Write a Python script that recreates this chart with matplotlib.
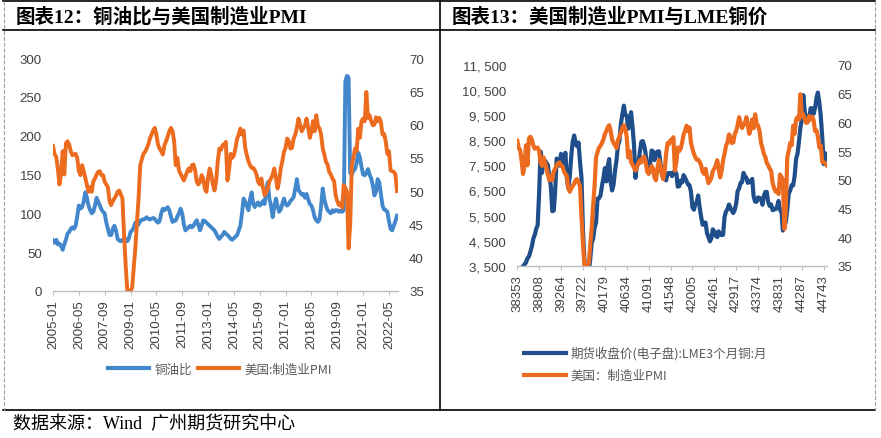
import matplotlib
matplotlib.use("Agg")
import matplotlib.pyplot as plt
from matplotlib.lines import Line2D
import pandas as pd

# ---- data (monthly) ----
# copper / oil ratio, 2005-01 .. 2022-10
cu_oil = [
    65, 62, 66, 60, 61, 58, 53, 60, 66, 74, 76, 80,
    82, 80, 84, 96, 110, 106, 108, 115, 127, 120, 110, 104,
    100, 102, 110, 120, 115, 110, 105, 102, 100, 88, 80, 72,
    72, 80, 84, 78, 67, 65, 64, 66, 65, 67, 64, 68,
    76, 78, 82, 88, 84, 86, 90, 92, 92, 93, 95, 93,
    92, 93, 94, 93, 90, 88, 90, 100, 106, 104, 106, 108,
    104, 96, 89, 90, 91, 96, 100, 106, 100, 86, 78, 80,
    82, 84, 82, 84, 88, 91, 85, 78, 84, 91, 90, 88,
    86, 84, 82, 80, 78, 74, 70, 67, 70, 72, 76, 74,
    72, 70, 67, 66, 68, 70, 72, 78, 84, 100, 119, 115,
    110, 104, 118, 127, 112, 108, 112, 114, 110, 112, 116, 112,
    130, 140, 118, 110, 95, 108, 119, 110, 102, 105, 112, 119,
    112, 110, 112, 116, 118, 121, 132, 144, 130, 127, 124, 125,
    120, 125, 118, 112, 110, 104, 95, 91, 89, 92, 110, 132,
    118, 110, 104, 102, 100, 104, 102, 104, 104, 102, 103, 102,
    104, 270, 277, 275, 152, 150, 155, 157, 165, 178, 172, 160,
    150, 149, 152, 157, 150, 145, 136, 123, 128, 144, 140, 125,
    110, 105, 104, 102, 90, 80, 78, 84, 90, 97,
]

# US ISM manufacturing PMI, 2005-01 .. 2022-10
pmi = [
    56.8, 55.5, 55.2, 53.3, 51.0, 52.6, 56.0, 52.5, 57.2, 57.5, 57.0, 56.0,
    55.4, 55.5, 55.6, 55.0, 53.0, 52.4, 53.9, 53.0, 52.0, 50.9, 49.9, 50.6,
    49.9, 51.5, 51.9, 52.5, 52.9, 53.0, 52.4, 52.4, 51.4, 51.0, 50.6, 48.5,
    47.9, 48.5, 48.9, 49.3, 49.9, 50.1, 49.5, 48.9, 43.4, 38.9, 35.0, 35.0,
    35.0, 35.5, 38.5, 41.5, 45.4, 49.0, 53.9, 54.8, 55.6, 55.9, 56.4, 57.0,
    57.9, 58.5, 59.1, 59.5, 58.5, 57.0, 56.4, 56.0, 55.5, 56.9, 57.5, 58.2,
    59.0, 59.5, 59.0, 57.5, 53.9, 55.0, 53.1, 52.6, 52.1, 51.6, 52.2, 52.9,
    53.4, 53.0, 53.9, 54.0, 53.1, 51.4, 51.0, 51.4, 52.4, 51.9, 50.4, 49.9,
    52.0, 53.4, 52.5, 51.0, 50.1, 51.5, 54.5, 56.4, 56.2, 56.9, 57.0, 57.4,
    51.6, 53.2, 55.6, 55.0, 55.4, 56.5, 57.9, 58.5, 59.4, 58.5, 59.1, 56.5,
    55.4, 54.5, 53.9, 53.5, 53.5, 53.1, 52.5, 51.4, 51.0, 51.9, 50.5, 49.4,
    49.8, 50.4, 51.5, 51.9, 52.5, 53.4, 52.0, 50.4, 51.5, 53.4, 54.5, 55.9,
    56.5, 57.9, 57.5, 56.4, 56.5, 57.9, 58.5, 59.5, 60.9, 59.9, 59.0, 59.5,
    59.9, 60.9, 59.5, 58.0, 58.9, 60.5, 59.0, 61.4, 59.8, 59.4, 58.5, 56.4,
    55.5, 54.4, 54.0, 52.9, 52.5, 51.9, 51.5, 49.4, 48.5, 47.9, 48.2, 47.5,
    50.9, 50.5, 49.9, 41.4, 44.9, 53.9, 55.0, 56.4, 56.0, 59.4, 58.0, 60.5,
    60.9, 60.5, 64.9, 61.0, 61.4, 60.5, 59.9, 60.0, 61.1, 60.5, 61.0, 60.4,
    58.5, 58.6, 57.5, 55.6, 56.0, 53.1, 53.0, 52.9, 52.5, 50.0,
]

# LME 3-month copper, monthly close, 2005-01 .. 2022-09
lme_cu = [
    3170, 3250, 3380, 3390, 3480, 3560, 3620, 3800, 3860, 4060, 4270, 4580,
    4730, 4980, 5100, 6380, 8050, 7200, 7710, 7690, 7600, 7500, 7030, 6680,
    5670, 5700, 6450, 7770, 7660, 7490, 7960, 7500, 7650, 8000, 6970, 6600,
    7060, 7890, 8440, 8690, 8380, 8260, 8410, 7630, 6990, 4930, 3720, 3070,
    3220, 3310, 3750, 4400, 4570, 5010, 5220, 6170, 6190, 6290, 6680, 6980,
    7390, 6860, 7460, 7750, 6840, 6500, 6730, 7280, 7710, 8290, 8470, 9150,
    9530, 9880, 9530, 9480, 8960, 9040, 9620, 9040, 8300, 7000, 7580, 7560,
    8040, 8440, 8470, 8290, 7960, 7420, 7580, 7510, 8090, 8060, 7710, 7960,
    8050, 8060, 7650, 7200, 7250, 7000, 6900, 7190, 7160, 7200, 7070, 7210,
    7290, 7150, 6650, 6670, 6890, 6820, 7110, 7000, 6870, 6740, 6710, 6450,
    5830, 5730, 5940, 6040, 6300, 5830, 5460, 5130, 5220, 5220, 4800, 4640,
    4470, 4600, 4950, 4870, 4700, 4640, 4870, 4750, 4720, 4730, 5450, 5660,
    5750, 5940, 5820, 5690, 5600, 5720, 5980, 6480, 6580, 6800, 6830, 7200,
    7070, 7000, 6800, 6870, 6830, 6960, 6250, 6050, 6050, 6220, 6200, 6170,
    5930, 6290, 6440, 6440, 6020, 5880, 5940, 5710, 5760, 5750, 5860, 6080,
    5720, 5660, 4900, 5050, 5240, 5740, 6370, 6500, 6710, 6700, 7060, 7750,
    7970, 8470, 8990, 9340, 10300, 9610, 9430, 9360, 9320, 9780, 9770, 9550,
    9780, 10200, 10400, 10000, 9450, 8600, 7550, 7980, 7700,
]

START = "2005-01-01"
months = pd.date_range(START, periods=len(cu_oil), freq="MS")
left_tick_labels = [d.strftime("%Y-%m") for d in months[::16]]

cu_dates = pd.date_range(START, periods=len(lme_cu), freq="MS")
cu_serial = (cu_dates - pd.Timestamp("1899-12-30")).days
right_ticks = (pd.date_range(START, periods=15, freq="15MS") - pd.Timestamp("1899-12-30")).days

BLUE = "#4287CC"
NAVY = "#1F4E8A"
ORANGE = "#EC6B1E"
GREY_TXT = "#404040"
AXIS_GREY = "#BFBFBF"
LATIN = "Liberation Sans"
CJK = ["Noto Sans CJK SC", "DejaVu Sans"]
SERIF_CJK = ["Liberation Serif", "Noto Sans CJK SC"]

W, H = 881, 439
fig = plt.figure(figsize=(W / 100, H / 100), dpi=100)
fig.patch.set_facecolor("white")


def fx(px):
    return px / W


def fy(py):
    return 1 - py / H


def style_axes(ax, ax2):
    for a in (ax, ax2):
        for s in ("top", "left", "right", "bottom"):
            a.spines[s].set_visible(False)
    ax.spines["bottom"].set_visible(True)
    ax.spines["bottom"].set_color(AXIS_GREY)
    ax.spines["bottom"].set_linewidth(1.0)
    ax.tick_params(axis="y", length=0, pad=8, labelsize=9.5, labelcolor=GREY_TXT)
    ax2.tick_params(axis="y", length=0, pad=8, labelsize=9.5, labelcolor=GREY_TXT)
    ax.tick_params(axis="x", length=3, width=0.8, color=AXIS_GREY, pad=3,
                   labelsize=9.5, labelcolor=GREY_TXT, labelrotation=90)
    for lab in ax.get_xticklabels() + ax.get_yticklabels() + ax2.get_yticklabels():
        lab.set_fontfamily(LATIN)
    ax.patch.set_visible(False)


# ---- left panel: copper/oil ratio vs PMI ----
ax1 = fig.add_axes([fx(53), fy(292), fx(398) - fx(53), (292 - 59) / H])
ax1b = ax1.twinx()
x_idx = range(len(cu_oil))
ax1.plot(x_idx, cu_oil, color=BLUE, lw=2.8, solid_joinstyle="round")
ax1b.plot(x_idx, pmi, color=ORANGE, lw=2.8, solid_joinstyle="round")
ax1.set_xlim(0, 213.6)
ax1.set_ylim(0, 300)
ax1b.set_ylim(35, 70)
ax1.set_yticks(range(0, 301, 50))
ax1b.set_yticks(range(35, 71, 5))
ax1.set_xticks(list(x_idx)[::16])
ax1.set_xticklabels(left_tick_labels)
style_axes(ax1, ax1b)

# ---- right panel: PMI vs LME copper ----
ax2 = fig.add_axes([fx(517.3), fy(266.7), fx(826.7) - fx(517.3), (266.7 - 66) / H])
ax2b = ax2.twinx()
ax2.plot(cu_serial, lme_cu, color=NAVY, lw=3.0, solid_joinstyle="round")
ax2b.plot(cu_serial, pmi[:len(lme_cu)], color=ORANGE, lw=3.0, solid_joinstyle="round")
ax2.set_xlim(38353, 44805)
ax2.set_ylim(3500, 11500)
ax2b.set_ylim(35, 70)
ax2.set_yticks(range(3500, 11501, 1000))
ax2.set_yticklabels([f"{v // 1000}, {v % 1000:03d}" for v in range(3500, 11501, 1000)])
ax2b.set_yticks(range(35, 71, 5))
ax2.set_xticks(right_ticks)
ax2.set_xticklabels([str(v) for v in right_ticks])
style_axes(ax2, ax2b)

# ---- legends ----
leg_font = {"family": CJK, "size": 9}
h_blue = Line2D([], [], color=BLUE, lw=3)
h_navy = Line2D([], [], color=NAVY, lw=3)
h_orange = Line2D([], [], color=ORANGE, lw=3)
leg1 = fig.legend([h_blue, h_orange], ["铜油比", "美国:制造业PMI"], loc="center",
                  bbox_to_anchor=(fx(220), fy(370)), ncol=2, frameon=False,
                  handlelength=3.3, handletextpad=0.4, columnspacing=0.5, prop=leg_font)
leg2 = fig.legend([h_navy, h_orange], ["期货收盘价(电子盘):LME3个月铜:月", "美国：制造业PMI"],
                  loc="upper left", bbox_to_anchor=(fx(513), fy(336)), ncol=1, frameon=False,
                  handlelength=3.3, handletextpad=0.4, labelspacing=0.75, prop=leg_font)
for leg in (leg1, leg2):
    for t in leg.get_texts():
        t.set_color("#595959")

# ---- titles, frame and source ----
fig.text(fx(16), fy(16.5), "图表12：铜油比与美国制造业PMI", ha="left", va="center",
         fontsize=14, fontweight="bold", family=SERIF_CJK, color="black")
fig.text(fx(452), fy(16.5), "图表13：美国制造业PMI与LME铜价", ha="left", va="center",
         fontsize=14, fontweight="bold", family=SERIF_CJK, color="black")
fig.text(fx(13), fy(425), "数据来源：Wind  广州期货研究中心", ha="left", va="center",
         fontsize=13, family=SERIF_CJK, color="black")

frame = [
    ([3, 875], [1.5, 1.5], "black", "-"),
    ([3, 875], [31, 31], "black", "-"),
    ([3, 875], [411, 411], "black", "-"),
    ([439.5, 439.5], [1.5, 411], "black", "-"),
    ([3.5, 3.5], [1.5, 411], "#A0A0A0", "--"),
    ([874.5, 874.5], [1.5, 411], "#A0A0A0", "--"),
]
for xs, ys, col, ls in frame:
    fig.add_artist(Line2D([fx(v) for v in xs], [fy(v) for v in ys], transform=fig.transFigure,
                          color=col, lw=1.2 if ls == "-" else 0.8, linestyle=ls))

fig.savefig("out.png", dpi=100, facecolor="white")
